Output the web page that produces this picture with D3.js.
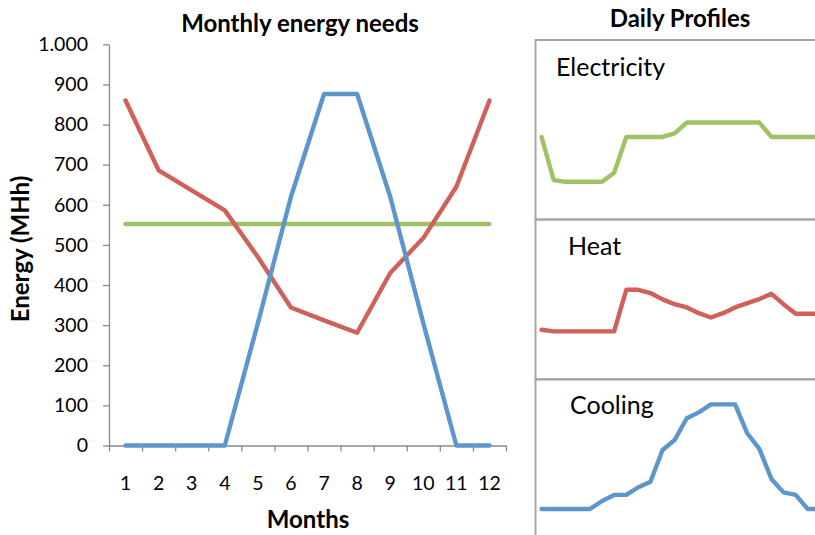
<!DOCTYPE html>
<html>
<head>
<meta charset="utf-8">
<script src="https://cdn.jsdelivr.net/npm/d3@7"></script>
<style>
  body { margin: 0; background: #fff; }
  svg { display: block; }
  text { font-family: Lato, "Open Sans", sans-serif; fill: #000; }
</style>
</head>
<body>
<svg id="chart" width="815" height="535"></svg>
<script>
// Monthly energy needs (MWh)
const months = [1, 2, 3, 4, 5, 6, 7, 8, 9, 10, 11, 12];
const electricityMonthly = [552, 552, 552, 552, 552, 552, 552, 552, 552, 552, 552, 552];
const heatMonthly = [860, 686, 636, 586, 470, 344, 312, 281, 430, 517, 645, 860];
const coolingMonthly = [0, 0, 0, 0, 305, 620, 876, 876, 620, 305, 0, 0];
const yTicks = [0, 100, 200, 300, 400, 500, 600, 700, 800, 900, 1000];

// Daily profiles (relative load, % of panel scale) for hours 1..24
const hours = d3.range(1, 25);
const electricityDaily = [46, 22, 21, 21, 21, 21, 26, 46, 46, 46, 46, 48, 54, 54, 54, 54, 54, 54, 54, 46, 46, 46, 46, 46];
const heatDaily = [31, 30, 30, 30, 30, 30, 30, 56, 56, 54, 50, 47, 45, 41.4, 38.7, 41.4, 45, 47.7, 50.2, 53.5, 47, 41, 41, 41];
const coolingDaily = [18.8, 18.8, 18.8, 18.8, 18.8, 23.8, 27.6, 27.6, 32.4, 35.9, 55.7, 62, 75.6, 79.3, 84.3, 84.3, 84.3, 66.2, 56.4, 37.6, 29.2, 27.6, 18.8, 18.8];
const profileNames = ["Electricity", "Heat", "Cooling"];

const colors = { electricity: "#9fc266", heat: "#cf615a", cooling: "#5d95cd" };
const axisColor = "#8a8a8a";
const frameColor = "#a6a6a6";

const svg = d3.select("#chart");

// ---------- Monthly chart ----------
const plot = { left: 109, right: 506, top: 44.3, bottom: 445.5 };

const x = d3.scaleBand().domain(months).range([plot.left, plot.right]);
const xEdge = d3.scaleLinear().domain([0, months.length]).range([plot.left, plot.right]);
const y = d3.scaleLinear().domain([0, 1000]).range([plot.bottom, plot.top]);

const fmt = d3.formatLocale({ decimal: ",", thousands: ".", grouping: [3], currency: ["", ""] }).format(",");

const yAxis = svg.append("g")
  .attr("transform", `translate(${plot.left},0)`)
  .call(d3.axisLeft(y).tickValues(yTicks).tickFormat(fmt).tickSize(6).tickSizeOuter(0).tickPadding(15));

// tick marks between month bands
const xTickAxis = svg.append("g")
  .attr("transform", `translate(0,${plot.bottom})`)
  .call(d3.axisBottom(xEdge).tickValues(d3.range(months.length + 1)).tickFormat("").tickSize(6).tickSizeOuter(0));

// month labels centred in their bands
const xAxis = svg.append("g")
  .attr("transform", `translate(0,${plot.bottom})`)
  .call(d3.axisBottom(x).tickSize(0).tickPadding(30.5));
xAxis.select(".domain").remove();

[yAxis, xTickAxis].forEach(g => {
  g.selectAll(".domain, line").attr("stroke", axisColor).attr("stroke-width", 1.3);
});
svg.selectAll(".tick text").attr("font-family", "Lato, sans-serif").attr("font-size", 19.5).attr("fill", "#000");

const monthLine = d3.line()
  .x((d, i) => x(months[i]) + x.bandwidth() / 2)
  .y(d => y(d));

[[electricityMonthly, colors.electricity], [heatMonthly, colors.heat], [coolingMonthly, colors.cooling]]
  .forEach(([vals, c]) => {
    svg.append("path")
      .datum(vals)
      .attr("d", monthLine)
      .attr("fill", "none")
      .attr("stroke", c)
      .attr("stroke-width", 4.4)
      .attr("stroke-linejoin", "round")
      .attr("stroke-linecap", "round");
  });

svg.append("text")
  .attr("x", 300).attr("y", 31.5)
  .attr("text-anchor", "middle")
  .attr("font-weight", "bold").attr("font-size", 24)
  .text("Monthly energy needs");

svg.append("text")
  .attr("x", 308).attr("y", 528)
  .attr("text-anchor", "middle")
  .attr("font-weight", "bold").attr("font-size", 24)
  .text("Months");

svg.append("text")
  .attr("transform", "translate(29,249) rotate(-90)")
  .attr("text-anchor", "middle")
  .attr("font-weight", "bold").attr("font-size", 24)
  .text("Energy (MHh)");

// ---------- Daily profiles ----------
svg.append("text")
  .attr("x", 680).attr("y", 26.5)
  .attr("text-anchor", "middle")
  .attr("font-weight", "bold").attr("font-size", 24)
  .text("Daily Profiles");

const panelLeft = 535.5;
const panelBounds = [[40, 219.5], [219.5, 379.3], [379.3, 539]];
const panelData = [electricityDaily, heatDaily, coolingDaily];
const panelColors = [colors.electricity, colors.heat, colors.cooling];
const labelPos = [[556, 75.5], [568, 255], [570, 414]];

const xh = d3.scaleBand().domain(hours).range([panelLeft, panelLeft + 24 * 12.1]);

panelBounds.forEach(([top, bottom], i) => {
  const g = svg.append("g");
  g.append("rect")
    .attr("x", panelLeft).attr("y", top)
    .attr("width", 400).attr("height", bottom - top)
    .attr("fill", "none")
    .attr("stroke", frameColor)
    .attr("stroke-width", 2);

  const yp = d3.scaleLinear().domain([0, 100]).range([bottom, top]);
  const line = d3.line()
    .x((d, k) => xh(hours[k]) + xh.bandwidth() / 2)
    .y(d => yp(d));

  g.append("path")
    .datum(panelData[i])
    .attr("d", line)
    .attr("fill", "none")
    .attr("stroke", panelColors[i])
    .attr("stroke-width", 4.4)
    .attr("stroke-linejoin", "round")
    .attr("stroke-linecap", "round");

  g.append("text")
    .attr("x", labelPos[i][0]).attr("y", labelPos[i][1])
    .attr("font-size", 25)
    .text(profileNames[i]);
});
</script>
</body>
</html>
